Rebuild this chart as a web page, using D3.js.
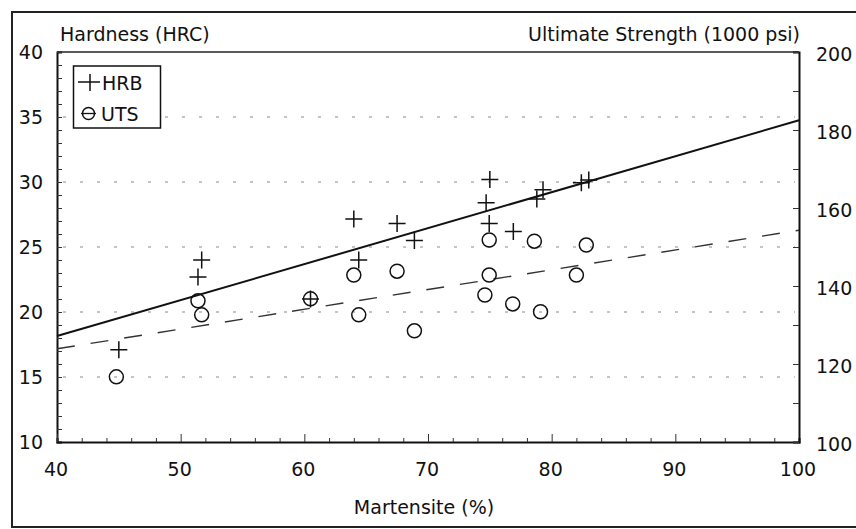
<!DOCTYPE html>
<html><head><meta charset="utf-8">
<script src="https://cdn.jsdelivr.net/npm/d3@7"></script>
<style>
body{margin:0;background:#fff;}
svg text{font-family:"DejaVu Sans",sans-serif;fill:#111;}
</style>
</head><body>
<svg id="c" width="856" height="529"></svg>
<script>
// ---- data ----
const xTicks = [40, 50, 60, 70, 80, 90, 100];
const leftTicks = [10, 15, 20, 25, 30, 35, 40];
const rightTicks = [100, 120, 140, 160, 180, 200];
const gridValues = [15, 20, 25, 30, 35];

// HRB (crosses, left axis, HRC)
const hrbX = [45.0, 51.7, 51.4, 60.5, 64.0, 67.5, 68.9, 64.4, 75.0, 74.7, 74.95, 76.9, 79.3, 78.8, 82.4, 83.0];
const hrbY = [17.1, 24.0, 22.7, 21.0, 27.15, 26.8, 25.5, 24.0, 30.2, 28.4, 26.8, 26.2, 29.4, 28.7, 29.95, 30.15];

// UTS (circles, right axis, 1000 psi)
const utsX = [44.8, 51.4, 51.7, 60.5, 64.0, 67.5, 64.4, 68.9, 74.95, 78.6, 82.8, 74.95, 82.0, 74.6, 76.85, 79.1];
const utsY = [116.7, 136.2, 132.6, 136.7, 142.8, 143.8, 132.6, 128.5, 151.8, 151.5, 150.5, 142.8, 142.8, 137.7, 135.4, 133.4];

// fitted lines (end points)
const fitX = [40, 100];
const hrbFit = [18.15, 34.75];
const utsFit = [123.9, 154.3];

// ---- layout ----
const svg = d3.select("#c");
const L = 57, R = 799, T = 52, B = 442;
const x = d3.scaleLinear().domain([40, 100]).range([L, R]);
const yL = d3.scaleLinear().domain([10, 40]).range([B, T]);
const yR = d3.scaleLinear().domain([100, 200]).range([B, T]);

// outer frame (open on the right)
svg.append("path").attr("d", `M900,12 H12 V527 H900`).attr("fill", "none").attr("stroke", "#222").attr("stroke-width", 2);

// grid
svg.append("g").selectAll("line").data(gridValues).join("line")
  .attr("x1", L + 6).attr("x2", R - 4)
  .attr("y1", d => yL(d)).attr("y2", d => yL(d))
  .attr("stroke", "#8a8a8a").attr("stroke-width", 1.2).attr("stroke-dasharray", "3,14");

// plot frame: top line
svg.append("line").attr("x1", L).attr("x2", R).attr("y1", T).attr("y2", T).attr("stroke", "#222").attr("stroke-width", 1.6);

// left axis
const axL = d3.axisRight(yL).tickValues(d3.range(10, 41, 1)).tickSize(5).tickFormat("");
const gL = svg.append("g").attr("transform", `translate(${L},0)`).call(axL);
gL.select(".domain").attr("stroke", "#111").attr("stroke-width", 2);
gL.selectAll(".tick line").attr("stroke", "#333").attr("stroke-width", 1);
svg.append("g").selectAll("text").data(leftTicks).join("text")
  .attr("x", 43).attr("y", d => yL(d)).attr("dy", "0.36em")
  .attr("text-anchor", "end").attr("font-size", 19).text(d => d);

// bottom axis (minor every 2, major every 10)
const axB = d3.axisTop(x).tickValues(d3.range(40, 101, 2)).tickSize(4).tickFormat("");
const gB = svg.append("g").attr("transform", `translate(0,${B})`).call(axB);
gB.select(".domain").attr("stroke", "#111").attr("stroke-width", 2);
gB.selectAll(".tick line").attr("stroke", "#333").attr("stroke-width", 1)
  .attr("y2", d => d % 10 === 0 ? -8 : -4);
svg.append("g").selectAll("text").data(xTicks).join("text")
  .attr("x", d => x(d) - 1).attr("y", 476)
  .attr("text-anchor", "middle").attr("font-size", 19).text(d => d);

// right axis
const axR = d3.axisLeft(yR).tickValues(d3.range(100, 201, 10)).tickSize(6).tickFormat("");
const gR = svg.append("g").attr("transform", `translate(${R},0)`).call(axR);
gR.select(".domain").attr("stroke", "#111").attr("stroke-width", 2);
gR.selectAll(".tick line").attr("stroke", "#333").attr("stroke-width", 1);
svg.append("g").selectAll("text").data(rightTicks).join("text")
  .attr("x", 816).attr("y", d => yR(d) + 2).attr("dy", "0.36em")
  .attr("text-anchor", "start").attr("font-size", 19).text(d => d);

// titles
svg.append("text").attr("x", 60).attr("y", 41).attr("font-size", 19).text("Hardness (HRC)");
svg.append("text").attr("x", 800).attr("y", 41).attr("text-anchor", "end").attr("font-size", 19).text("Ultimate Strength (1000 psi)");
svg.append("text").attr("x", 424).attr("y", 514).attr("text-anchor", "middle").attr("font-size", 19).text("Martensite (%)");

// fit lines
const line = d3.line();
svg.append("path").attr("d", line(fitX.map((v, i) => [x(v), yL(hrbFit[i])])))
  .attr("fill", "none").attr("stroke", "#111").attr("stroke-width", 2);
svg.append("path").attr("d", line(fitX.map((v, i) => [x(v), yR(utsFit[i])])))
  .attr("fill", "none").attr("stroke", "#333").attr("stroke-width", 1.4).attr("stroke-dasharray", "18,16");

// crosses
const cs = 8.5;
svg.append("g").selectAll("path").data(hrbX.map((v, i) => [x(v), yL(hrbY[i])])).join("path")
  .attr("d", d => `M${d[0]-cs},${d[1]}H${d[0]+cs}M${d[0]},${d[1]-cs}V${d[1]+cs}`)
  .attr("stroke", "#111").attr("stroke-width", 1.5).attr("fill", "none");

// circles
svg.append("g").selectAll("circle").data(utsX.map((v, i) => [x(v), yR(utsY[i])])).join("circle")
  .attr("cx", d => d[0]).attr("cy", d => d[1]).attr("r", 7)
  .attr("stroke", "#111").attr("stroke-width", 1.5).attr("fill", "none");

// legend
const lg = svg.append("g");
lg.append("rect").attr("x", 73.5).attr("y", 66).attr("width", 87).attr("height", 62)
  .attr("fill", "#fff").attr("stroke", "#111").attr("stroke-width", 1.5);
lg.append("path").attr("d", "M78,82H100M90,74V91").attr("stroke", "#111").attr("stroke-width", 1.5);
lg.append("text").attr("x", 102).attr("y", 89.5).attr("font-size", 19).text("HRB");
lg.append("circle").attr("cx", 88.5).attr("cy", 113.5).attr("r", 6).attr("fill", "none").attr("stroke", "#111").attr("stroke-width", 1.5);
lg.append("line").attr("x1", 81).attr("x2", 96).attr("y1", 113.5).attr("y2", 113.5).attr("stroke", "#111").attr("stroke-width", 1.3);
lg.append("text").attr("x", 101).attr("y", 120.5).attr("font-size", 19).text("UTS");
</script>
</body></html>
